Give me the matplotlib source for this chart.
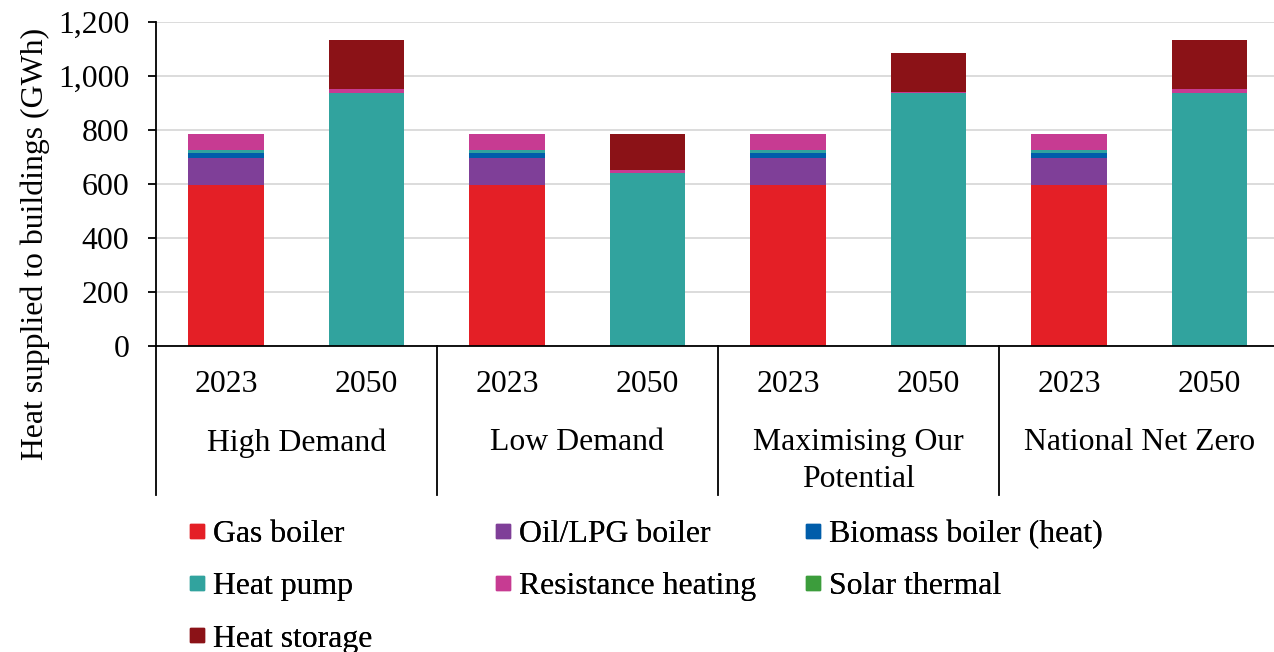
import numpy as np
import matplotlib.pyplot as plt
from matplotlib.lines import Line2D
import matplotlib.transforms as mtransforms

plt.rcParams['font.family'] = ['Liberation Serif', 'DejaVu Serif']

# scenarios and years along the x axis
scenarios = ['High Demand', 'Low Demand', 'Maximising Our\nPotential', 'National Net Zero']
years = ['2023', '2050']

# heat supplied by technology (GWh), one value per bar
gas_boiler = [598, 0, 598, 0, 598, 0, 598, 0]
oil_lpg_boiler = [100, 0, 100, 0, 100, 0, 100, 0]
biomass_boiler = [18, 0, 18, 0, 18, 0, 18, 0]
heat_pump = [11, 938, 11, 642, 11, 938, 11, 938]
resistance_heating = [57, 13, 57, 9, 57, 4, 57, 13]
solar_thermal = [1, 0, 1, 0, 1, 0, 1, 0]
heat_storage = [0, 183, 0, 133, 0, 145, 0, 183]

series = [
    ('Gas boiler', gas_boiler, '#E41F26'),
    ('Oil/LPG boiler', oil_lpg_boiler, '#7F3F98'),
    ('Biomass boiler (heat)', biomass_boiler, '#005DAA'),
    ('Heat pump', heat_pump, '#31A39E'),
    ('Resistance heating', resistance_heating, '#C73B92'),
    ('Solar thermal', solar_thermal, '#3C9D3C'),
    ('Heat storage', heat_storage, '#8B1217'),
]

fs = 22.9
fig = plt.figure(figsize=(12.74, 6.52), dpi=100)
ax = fig.add_axes([155.75 / 1274, 1 - 346 / 652, 1124 / 1274, 324 / 652])

x = np.arange(len(gas_boiler))
bottom = np.zeros(len(x))
for name, vals, col in series:
    vals = np.array(vals, dtype=float)
    ax.bar(x, vals, 0.54, bottom=bottom, color=col, label=name, zorder=2)
    bottom += vals

ax.set_xlim(-0.5, len(x) - 0.5)
ax.set_ylim(0, 1200)
ax.set_yticks(np.arange(0, 1201, 200))
ax.yaxis.set_major_formatter(plt.FuncFormatter(lambda v, p: f'{int(v):,}'))
ax.tick_params(axis='y', labelsize=fs, length=6, width=1.3, pad=13)
ax.set_xticks([])
ax.grid(axis='y', color='#D9D9D9', linewidth=1.3, zorder=0)
for s in ['top', 'right']:
    ax.spines[s].set_visible(False)
for s in ['left', 'bottom']:
    ax.spines[s].set_linewidth(1.3)
    ax.spines[s].set_zorder(3)

# two-level category labels below the axis
trans = mtransforms.blended_transform_factory(ax.transData, ax.transAxes)
for i, xi in enumerate(x):
    ax.text(xi, -38 / 324, years[i % 2], transform=trans, ha='center', va='center', fontsize=fs)
for g, name in enumerate(scenarios):
    ax.text(2 * g + 0.5, -82 / 324, name, transform=trans, ha='center', va='top',
            fontsize=fs, linespacing=1.38)
    ax.plot([2 * g - 0.5] * 2, [0, -149 / 324], transform=trans, color='black',
            linewidth=1.3, clip_on=False)

fig.text(35 / 1274, 1 - 244 / 652, 'Heat supplied to buildings (GWh)', rotation=90,
         ha='center', va='center', fontsize=fs)

# legend laid out in three fixed columns
columns = [[0, 3, 6], [1, 4], [2, 5]]
col_x = [188, 494, 804]
for cx, idx in zip(col_x, columns):
    handles = [Line2D([], [], marker='s', linestyle='none', markersize=10.5,
                      markerfacecolor=series[k][2], markeredgecolor=series[k][2])
               for k in idx]
    labels = [series[k][0] for k in idx]
    leg = fig.legend(handles, labels, loc='upper left', bbox_to_anchor=(cx / 1274, 1 - 520 / 652),
                     frameon=False, fontsize=fs, handlelength=0.55, handletextpad=0.25,
                     labelspacing=0.72, borderpad=0, borderaxespad=0)
    fig.add_artist(leg)

fig.savefig('out.png', dpi=100)
